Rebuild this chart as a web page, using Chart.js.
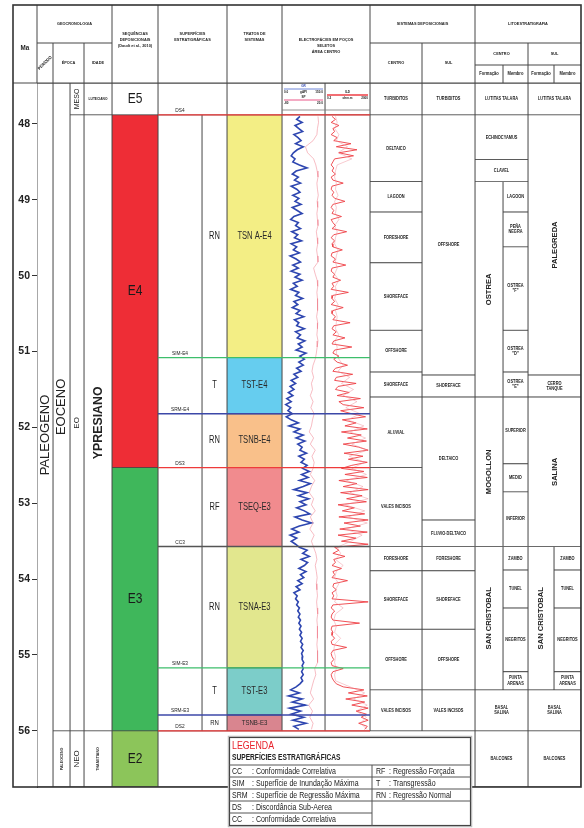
<!DOCTYPE html>
<html><head><meta charset="utf-8">
<script src="https://cdn.jsdelivr.net/npm/chart.js@4.4.1/dist/chart.umd.min.js"></script>
<style>html,body{margin:0;padding:0;background:#fff;}canvas{display:block;}</style>
</head><body>
<canvas id="c" width="584" height="828"></canvas>
<script>
// ================= DATA =================
const maTicks = [48, 49, 50, 51, 52, 53, 54, 55, 56];
const maRange = [47.46, 56.74];

const periodNames = ['PALEOGENO'];
const periodRanges = [[47.46, 56.74]];
const epochNames = ['EOCENO', 'PALEOCENO'];
const epochRanges = [[47.46, 56.0], [56.0, 56.74]];
const subEpochNames = ['MESO', 'EO', 'NEO'];
const subEpochRanges = [[47.46, 47.88], [47.88, 56.0], [56.0, 56.74]];
const stageNames = ['LUTECIANO', 'YPRESIANO', 'THANETIANO'];
const stageRanges = [[47.46, 47.88], [47.88, 56.0], [56.0, 56.74]];

const sequenceNames = ['E5', 'E4', 'E3', 'E2'];
const sequenceRanges = [[47.46, 47.88], [47.88, 52.53], [52.53, 56.0], [56.0, 56.74]];

const surfaceNames = ['DS4', 'SIM-E4', 'SRM-E4', 'DS3', 'CC3', 'SIM-E3', 'SRM-E3', 'DS2'];
const surfaceKinds = ['DS', 'SIM', 'SRM', 'DS', 'CC', 'SIM', 'SRM', 'DS'];
const surfaceAges = [47.88, 51.08, 51.82, 52.53, 53.57, 55.17, 55.79, 56.0];

const tractNames = ['TSN A-E4', 'TST-E4', 'TSNB-E4', 'TSEQ-E3', 'TSNA-E3', 'TST-E3', 'TSNB-E3'];
const tractTypes = ['RN', 'T', 'RN', 'RF', 'RN', 'T', 'RN'];
const tractRanges = [[47.88, 51.08], [51.08, 51.82], [51.82, 52.53], [52.53, 53.57], [53.57, 55.17], [55.17, 55.79], [55.79, 56.0]];

const depCentroNames = ['TURBIDITOS', 'DELTAICO', 'LAGOON', 'FORESHORE', 'SHOREFACE', 'OFFSHORE', 'SHOREFACE', 'ALUVIAL', 'VALES INCISOS', 'FORESHORE', 'SHOREFACE', 'OFFSHORE', 'VALES INCISOS'];
const depCentroRanges = [[47.46, 47.88], [47.88, 48.76], [48.76, 49.16], [49.16, 49.83], [49.83, 50.72], [50.72, 51.27], [51.27, 51.60], [51.60, 52.53], [52.53, 53.57], [53.57, 53.89], [53.89, 54.66], [54.66, 55.46], [55.46, 56.0]];
const depSulNames = ['TURBIDITOS', 'OFFSHORE', 'SHOREFACE', 'DELTAICO', 'FLUVIO-DELTAICO', 'FORESHORE', 'SHOREFACE', 'OFFSHORE', 'VALES INCISOS'];
const depSulRanges = [[47.46, 47.88], [47.88, 51.31], [51.31, 51.60], [51.60, 53.22], [53.22, 53.57], [53.57, 53.89], [53.89, 54.66], [54.66, 55.46], [55.46, 56.0]];

const litCentroNames = ['LUTITAS TALARA', 'ECHINOCYAMUS', 'CLAVEL', 'BASAL\nSALINA', 'BALCONES'];
const litCentroRanges = [[47.46, 47.88], [47.88, 48.47], [48.47, 48.76], [55.46, 56.0], [56.0, 56.74]];
const litCentroFmNames = ['OSTREA', 'MOGOLLON', 'SAN CRISTOBAL'];
const litCentroFmRanges = [[48.76, 51.60], [51.60, 53.57], [53.57, 55.46]];
const litCentroMbNames = ['LAGOON', 'PEÑA\nNEGRA', 'OSTREA\n"F"', 'OSTREA\n"D"', 'OSTREA\n"E"', 'SUPERIOR', 'MEDIO', 'INFERIOR', 'ZAMBO', 'TUNEL', 'NEGRITOS', 'PUNTA\nARENAS'];
const litCentroMbRanges = [[48.76, 49.16], [49.16, 49.62], [49.62, 50.72], [50.72, 51.27], [51.27, 51.60], [51.60, 52.48], [52.48, 52.85], [52.85, 53.57], [53.57, 53.88], [53.88, 54.38], [54.38, 55.22], [55.22, 55.46]];

const litSulNames = ['LUTITAS TALARA', 'PALEGREDA', 'CERRO\nTANQUE', 'SALINA', 'BASAL\nSALINA', 'BALCONES'];
const litSulRanges = [[47.46, 47.88], [47.88, 51.31], [51.31, 51.60], [51.60, 53.57], [55.46, 56.0], [56.0, 56.74]];
const litSulFmNames = ['SAN CRISTOBAL'];
const litSulFmRanges = [[53.57, 55.46]];
const litSulMbNames = ['ZAMBO', 'TUNEL', 'NEGRITOS', 'PUNTA\nARENAS'];
const litSulMbRanges = [[53.57, 53.88], [53.88, 54.38], [54.38, 55.22], [55.22, 55.46]];

// well logs: fine-sampled depth (Ma) for GR and resistivity, coarse depth for SP / deep res
const logDepth = [47.90, 47.94, 47.98, 48.02, 48.06, 48.10, 48.14, 48.18, 48.22, 48.26,
  48.30, 48.34, 48.38, 48.42, 48.46, 48.50, 48.54, 48.58, 48.62, 48.66,
  48.70, 48.74, 48.78, 48.82, 48.86, 48.90, 48.94, 48.98, 49.02, 49.06,
  49.10, 49.14, 49.18, 49.22, 49.26, 49.30, 49.34, 49.38, 49.42, 49.46,
  49.50, 49.54, 49.58, 49.62, 49.66, 49.70, 49.74, 49.78, 49.82, 49.86,
  49.90, 49.94, 49.98, 50.02, 50.06, 50.10, 50.14, 50.18, 50.22, 50.26,
  50.30, 50.34, 50.38, 50.42, 50.46, 50.50, 50.54, 50.58, 50.62, 50.66,
  50.70, 50.74, 50.78, 50.82, 50.86, 50.90, 50.94, 50.98, 51.02, 51.06,
  51.10, 51.14, 51.18, 51.22, 51.26, 51.30, 51.34, 51.38, 51.42, 51.46,
  51.50, 51.54, 51.58, 51.62, 51.66, 51.70, 51.74, 51.78, 51.82, 51.86,
  51.90, 51.94, 51.98, 52.02, 52.06, 52.10, 52.14, 52.18, 52.22, 52.26,
  52.30, 52.34, 52.38, 52.42, 52.46, 52.50, 52.54, 52.58, 52.62, 52.66,
  52.70, 52.74, 52.78, 52.82, 52.86, 52.90, 52.94, 52.98, 53.02, 53.06,
  53.10, 53.14, 53.18, 53.22, 53.26, 53.30, 53.34, 53.38, 53.42, 53.46,
  53.50, 53.54, 53.58, 53.62, 53.66, 53.70, 53.74, 53.78, 53.82, 53.86,
  53.90, 53.94, 53.98, 54.02, 54.06, 54.10, 54.14, 54.18, 54.22, 54.26,
  54.30, 54.34, 54.38, 54.42, 54.46, 54.50, 54.54, 54.58, 54.62, 54.66,
  54.70, 54.74, 54.78, 54.82, 54.86, 54.90, 54.94, 54.98, 55.02, 55.06,
  55.10, 55.14, 55.18, 55.22, 55.26, 55.30, 55.34, 55.38, 55.42, 55.46,
  55.50, 55.54, 55.58, 55.62, 55.66, 55.70, 55.74, 55.78, 55.82, 55.86,
  55.90, 55.94, 55.98];
const logGR = [62, 50, 70, 44, 58, 72, 40, 55, 66, 46,
  74, 52, 38, 30, 44, 36, 60, 88, 48, 34,
  56, 42, 64, 30, 50, 62, 36, 58, 44, 66,
  34, 52, 70, 40, 28, 56, 46, 64, 32, 54,
  42, 68, 30, 50, 38, 60, 26, 48, 64, 36,
  56, 30, 62, 44, 70, 38, 52, 28, 58, 46,
  72, 40, 54, 34, 62, 48, 76, 42, 58, 50,
  78, 46, 64, 52, 80, 56, 70, 48, 84, 62,
  78, 58, 74, 50, 66, 40, 54, 30, 46, 26,
  40, 20, 36, 14, 30, 10, 28, 18, 34, 12,
  30, 56, 22, 62, 40, 74, 48, 80, 54, 70,
  62, 86, 58, 78, 66, 88,
  72, 96, 68, 92, 60, 100, 74, 40, 88, 56,
  94, 62, 84, 50, 78, 98, 44, 70, 104, 60,
  32, 58, 26, 50, 30, 46,
  60, 88, 72, 96, 66, 90, 78, 58, 84, 64,
  76, 54, 70, 48, 62, 40, 52,
  46, 56, 50, 60, 54, 62, 56, 64, 58, 66,
  60, 68, 62, 70, 64, 72, 66, 74, 68, 72,
  70, 76, 70, 74, 68, 74, 66, 72, 62,
  48, 28, 60, 20, 70, 34, 82, 24, 64, 30,
  76, 36, 84, 40, 58];
const logRes = [14, 22, 12, 30, 16, 20, 12, 26, 18, 58,
  24, 72, 30, 64, 20, 16, 12, 18, 14, 22,
  12, 16, 40, 14, 12, 18, 14, 20, 44, 16,
  12, 18, 14, 36, 12, 16, 22, 14, 48, 18,
  12, 20, 14, 16, 38, 14, 12, 22, 16, 46,
  14, 12, 20, 16, 34, 14, 18, 12, 52, 16,
  14, 20, 12, 40, 16, 14, 22, 16, 56, 18,
  14, 24, 16, 44, 18, 14, 60, 20, 16, 30,
  18, 26, 50, 22, 16, 62, 24, 20, 70, 28,
  22, 54, 26, 80, 30, 40, 88, 34, 60, 92,
  38, 70, 44, 96, 36, 82, 50, 94, 40, 76,
  98, 42, 86, 52, 96, 60,
  36, 88, 44, 96, 30, 72, 40, 98, 34, 84,
  48, 94, 28, 66, 38, 90, 30, 98, 42, 80,
  32, 96, 28, 70, 36, 98,
  20, 30, 16, 44, 18, 22, 14, 36, 16, 20,
  14, 50, 18, 16, 24, 14, 18,
  14, 98, 16, 12, 20, 14, 12, 16, 78, 14,
  12, 16, 14, 20, 12, 14, 48, 16, 12, 14,
  18, 12, 14, 40, 16, 12, 14, 18, 24,
  40, 88, 52, 96, 46, 90, 60, 98, 70, 94,
  82, 98, 76, 96, 90];
const spDepth = [47.90, 47.98, 48.06, 48.14, 48.22, 48.30, 48.38, 48.46, 48.54, 48.62,
  48.70, 48.78, 48.86, 48.94, 49.02, 49.10, 49.18, 49.26, 49.34, 49.42,
  49.50, 49.58, 49.66, 49.74, 49.82, 49.90, 49.98, 50.06, 50.14, 50.22,
  50.30, 50.38, 50.46, 50.54, 50.62, 50.70, 50.78, 50.86, 50.94, 51.02,
  51.10, 51.18, 51.26, 51.34, 51.42, 51.50, 51.58, 51.66, 51.74, 51.82,
  51.90, 51.98, 52.06, 52.14, 52.22, 52.30, 52.38, 52.46, 52.54, 52.62,
  52.70, 52.78, 52.86, 52.94, 53.02, 53.10, 53.18, 53.26, 53.34, 53.42,
  53.50, 53.58, 53.66, 53.74, 53.82, 53.90, 53.98, 54.06, 54.14, 54.22,
  54.30, 54.38, 54.46, 54.54, 54.62, 54.70, 54.78, 54.86, 54.94, 55.02,
  55.10, 55.18, 55.26, 55.34, 55.42, 55.50, 55.58, 55.66, 55.74, 55.82,
  55.90, 55.98];
const logSP = [128, 130, 126, 124, 110, 82, 90, 112, 120, 125,
  128, 124, 126, 129, 125, 127, 124, 126, 128, 122,
  125, 127, 123, 126, 128, 112, 118, 125, 127, 124,
  126, 128, 125, 123, 127, 126, 124, 128, 125, 122,
  118, 110, 106, 112, 104, 108, 100, 110, 102, 114,
  108, 104, 96, 112, 100, 118, 106, 114, 110, 100,
  116, 104, 96, 112, 104, 118, 100, 110, 98, 114,
  104, 112, 120, 124, 118, 122, 125, 122, 124, 126,
  123, 125, 127, 124, 126, 125, 127, 124, 126, 128,
  125, 116, 120, 112, 106, 100, 112, 94, 108, 98,
  110, 104];
const logResDeep = [22, 26, 20, 30, 24, 50, 28, 60, 26, 22,
  20, 24, 22, 28, 20, 24, 22, 30, 20, 26,
  22, 20, 28, 24, 22, 26, 20, 30, 22, 24,
  20, 28, 22, 26, 24, 22, 30, 20, 26, 24,
  30, 40, 28, 55, 36, 64, 40, 72, 46, 80,
  50, 88, 56, 92, 60, 96, 54, 90,
  60, 94, 48, 86, 56, 98, 44, 90, 52, 96, 46, 84, 58,
  26, 34, 22, 40, 24, 20, 30, 22, 26,
  20, 40, 22, 18, 24, 20, 34, 20, 18, 22, 20, 24, 20, 22,
  56, 90, 64, 96, 70, 94, 80, 96];

const legendSurfCodes = ['CC', 'SIM', 'SRM', 'DS', 'CC'];
const legendSurfTexts = ['Conformidade Correlativa', 'Superfície de Inundação Máxima', 'Superfície de Regressão Máxima', 'Discordância Sub-Aerea', 'Conformidade Correlativa'];
const legendTractCodes = ['RF', 'T', 'RN'];
const legendTractTexts = ['Regressão Forçada', 'Transgressão', 'Regressão Normal'];

// ================= LAYOUT / STYLE =================
const FONT = "'Liberation Sans', Arial, Helvetica, sans-serif";
const LINE = '#474747';
const COL = {
  ma: [13, 37], period: [37, 53], epochA: [53, 70], epochB: [70, 84], stage: [84, 112], seq: [112, 158],
  surfAll: [158, 227], surfL: [158, 202], surfR: [202, 227], tract: [227, 282],
  logL: [282, 325], logR: [325, 370], logAll: [282, 370], blank: [158, 475],
  depC: [370, 422], depS: [422, 475],
  litC: [475, 528], litCF: [475, 503], litCM: [503, 528],
  litS: [528, 581], litSF: [528, 554], litSM: [554, 581]
};
const sequenceColors = ['#ffffff', '#EE2D36', '#3FB75B', '#8CC55A'];
const tractColors = ['#F3EE85', '#66CDEF', '#F9C08A', '#F18B8E', '#E2E78E', '#7CCDC9', '#D9858F'];
const surfaceColors = { DS: '#EE3B3B', SIM: '#3DBE6B', SRM: '#3C48A8', CC: '#555555' };
const litSulVertical = [false, true, false, true, false, false];
const GR_SCALE = [0, 150], RES_SCALE = [0, 100];

function toTrack(v, scale, col) {
  return col[0] + 1 + (v - scale[0]) / (scale[1] - scale[0]) * (col[1] - col[0] - 2);
}

function cellSet(label, col, ranges, colors) {
  return {
    type: 'bar', label,
    data: ranges.map(r => ({ x: (col[0] + col[1]) / 2, y: [r[0], r[1]] })),
    backgroundColor: colors || '#ffffff',
    borderColor: LINE, borderWidth: 0.8, borderSkipped: false,
    barThickness: col[1] - col[0], stack: 'cells', order: 3
  };
}
function logSet(label, depth, values, scale, col, color, width) {
  return {
    type: 'line', label, indexAxis: 'y', order: 2,
    data: depth.map((d, i) => ({ x: toTrack(values[i], scale, col), y: d })),
    borderColor: color, borderWidth: width, pointRadius: 0, tension: 0
  };
}

const e5 = sequenceRanges[0];
const e2 = sequenceRanges[3];
const innerSpan = [surfaceAges[0], surfaceAges[surfaceAges.length - 1]];

const datasets = [
  cellSet('period', COL.period, periodRanges),
  cellSet('epochA', COL.epochA, epochRanges),
  cellSet('epochB', COL.epochB, subEpochRanges),
  cellSet('stage', COL.stage, stageRanges),
  cellSet('seq', COL.seq, sequenceRanges, sequenceColors),
  cellSet('surfTop', COL.surfAll, [e5]),
  cellSet('surfL', COL.surfL, [innerSpan]),
  cellSet('surfR', COL.surfR, [innerSpan]),
  cellSet('tractTop', COL.tract, [e5]),
  cellSet('tract', COL.tract, tractRanges, tractColors),
  cellSet('logL', COL.logL, [e5, innerSpan]),
  cellSet('logR', COL.logR, [e5, innerSpan]),
  cellSet('blank', COL.blank, [e2]),
  cellSet('depC', COL.depC, depCentroRanges),
  cellSet('depS', COL.depS, depSulRanges),
  cellSet('litC', COL.litC, litCentroRanges),
  cellSet('litCF', COL.litCF, litCentroFmRanges),
  cellSet('litCM', COL.litCM, litCentroMbRanges),
  cellSet('litS', COL.litS, litSulRanges),
  cellSet('litSF', COL.litSF, litSulFmRanges),
  cellSet('litSM', COL.litSM, litSulMbRanges),
  logSet('SP', spDepth, logSP, GR_SCALE, COL.logL, 'rgba(238,120,135,0.55)', 0.9),
  logSet('ILD deep', spDepth, logResDeep, RES_SCALE, COL.logR, 'rgba(240,140,150,0.5)', 0.9),
  logSet('GR', logDepth, logGR, GR_SCALE, COL.logL, '#2E46B0', 1.6),
  logSet('ILD', logDepth, logRes, RES_SCALE, COL.logR, '#EE3E44', 0.9)
].concat(surfaceAges.map((a, i) => ({
  type: 'line', label: surfaceNames[i], order: 1,
  data: [{ x: COL.surfL[0], y: a }, { x: COL.logR[1], y: a }],
  borderColor: surfaceColors[surfaceKinds[i]], borderWidth: 1.4, pointRadius: 0
})));

// ================= DRAW HELPERS =================
function txt(ctx, s, x, y, o) {
  ctx.save();
  ctx.translate(x, y);
  if (o.rot) ctx.rotate(o.rot);
  ctx.scale(o.cx || 1, 1);
  ctx.font = (o.w || 'normal') + ' ' + o.size + 'px ' + FONT;
  ctx.fillStyle = o.color || '#222';
  ctx.textAlign = o.align || 'center';
  ctx.textBaseline = o.base || 'middle';
  const lines = String(s).split('\n');
  const lh = o.lh || o.size * 1.15;
  lines.forEach((l, i) => ctx.fillText(l, 0, (i - (lines.length - 1) / 2) * lh));
  ctx.restore();
}
function line(ctx, x0, y0, x1, y1, w, c) {
  ctx.save(); ctx.beginPath(); ctx.moveTo(x0, y0); ctx.lineTo(x1, y1);
  ctx.lineWidth = w || 1; ctx.strokeStyle = c || LINE; ctx.stroke(); ctx.restore();
}

const tablePlugin = {
  id: 'table',
  beforeDraw(chart) {
    const ctx = chart.ctx;
    ctx.save(); ctx.fillStyle = '#fff'; ctx.fillRect(0, 0, chart.width, chart.height); ctx.restore();
  },
  afterDatasetsDraw(chart) {
    const ctx = chart.ctx, X = v => chart.scales.x.getPixelForValue(v), Y = v => chart.scales.y.getPixelForValue(v);
    const cx = col => (X(col[0]) + X(col[1])) / 2;
    const cy = r => (Y(r[0]) + Y(r[1])) / 2;
    const R = -Math.PI / 2;
    const cells = (names, ranges, col, o, vert) => names.forEach((n, i) => {
      const oo = Object.assign({}, o);
      if (vert && vert[i]) { oo.rot = R; oo.size = 8; oo.w = 'bold'; oo.cx = 0.95; }
      txt(ctx, n, cx(col), cy(ranges[i]), oo);
    });
    // geochronology
    txt(ctx, periodNames[0], cx(COL.period), cy(periodRanges[0]), { size: 13, rot: R, cx: 1.0 });
    txt(ctx, epochNames[0], cx(COL.epochA), cy(epochRanges[0]), { size: 13, rot: R });
    txt(ctx, epochNames[1], cx(COL.epochA), cy(epochRanges[1]), { size: 3.6, rot: R, w: 'bold' });
    txt(ctx, subEpochNames[0], cx(COL.epochB), cy(subEpochRanges[0]), { size: 7, rot: R });
    txt(ctx, subEpochNames[1], cx(COL.epochB), cy(subEpochRanges[1]), { size: 8, rot: R });
    txt(ctx, subEpochNames[2], cx(COL.epochB), cy(subEpochRanges[2]), { size: 8, rot: R });
    txt(ctx, stageNames[0], cx(COL.stage), cy(stageRanges[0]), { size: 3.8, w: 'bold', cx: 0.85 });
    txt(ctx, stageNames[1], cx(COL.stage), cy(stageRanges[1]), { size: 13, rot: R, w: 'bold', cx: 0.95 });
    txt(ctx, stageNames[2], cx(COL.stage), cy(stageRanges[2]), { size: 3.6, rot: R, w: 'bold' });
    // sequences
    sequenceNames.forEach((n, i) => txt(ctx, n, cx(COL.seq), cy(sequenceRanges[i]), { size: 15, cx: 0.8, color: '#1a1a1a' }));
    // surfaces
    surfaceNames.forEach((n, i) => txt(ctx, n, cx(COL.surfL), Y(surfaceAges[i]) - 1.5, { size: 6, cx: 0.8, base: 'bottom' }));
    // tracts
    tractNames.forEach((n, i) => {
      const small = (Y(tractRanges[i][1]) - Y(tractRanges[i][0])) < 25;
      txt(ctx, tractTypes[i], cx(COL.surfR), cy(tractRanges[i]), { size: small ? 8 : 10, cx: 0.75 });
      txt(ctx, n, cx(COL.tract), cy(tractRanges[i]), { size: small ? 8 : 10, cx: 0.76, color: '#2a2a2a' });
    });
    // depositional systems
    const small = { size: 4.6, w: 'bold', cx: 0.85 };
    cells(depCentroNames, depCentroRanges, COL.depC, small);
    cells(depSulNames, depSulRanges, COL.depS, small);
    // lithostratigraphy
    cells(litCentroNames, litCentroRanges, COL.litC, small);
    cells(litCentroFmNames, litCentroFmRanges, COL.litCF, small, litCentroFmNames.map(() => true));
    cells(litCentroMbNames, litCentroMbRanges, COL.litCM, small);
    cells(litSulNames, litSulRanges, COL.litS, small, litSulVertical);
    cells(litSulFmNames, litSulFmRanges, COL.litSF, small, [true]);
    cells(litSulMbNames, litSulMbRanges, COL.litSM, small);
    // log header (E5 row)
    const l0 = X(COL.logL[0]) + 2, l1 = X(COL.logL[1]) - 2, r0 = X(COL.logR[0]) + 2, r1 = X(COL.logR[1]) - 2;
    const t = Y(e5[0]);
    const tiny = { size: 3.4, w: 'bold', cx: 0.9 };
    txt(ctx, 'GR', (l0 + l1) / 2, t + 3, Object.assign({ color: '#2E46B0' }, tiny));
    line(ctx, l0, t + 6, l1, t + 6, 1, '#6F86D8');
    txt(ctx, '0.0', l0, t + 9, Object.assign({ align: 'left' }, tiny));
    txt(ctx, 'gAPI', (l0 + l1) / 2, t + 9, tiny);
    txt(ctx, '150.0', l1, t + 9, Object.assign({ align: 'right' }, tiny));
    txt(ctx, 'SP', (l0 + l1) / 2, t + 14, tiny);
    line(ctx, l0, t + 17, l1, t + 17, 1.4, '#F08FB0');
    txt(ctx, '-80', l0, t + 20, Object.assign({ align: 'left' }, tiny));
    txt(ctx, '20.0', l1, t + 20, Object.assign({ align: 'right' }, tiny));
    txt(ctx, 'ILD', (r0 + r1) / 2, t + 9, tiny);
    line(ctx, r0, t + 12, r1, t + 12, 1.3, '#EE3E44');
    txt(ctx, '0.2', r0, t + 15, Object.assign({ align: 'left' }, tiny));
    txt(ctx, 'ohm.m', (r0 + r1) / 2, t + 15, tiny);
    txt(ctx, '2000', r1, t + 15, Object.assign({ align: 'right' }, tiny));
    line(ctx, X(COL.logAll[0]), t + 27, X(COL.logAll[1]), t + 27, 0.8, '#777');
  },
  afterDraw(chart) {
    const ctx = chart.ctx, X = v => chart.scales.x.getPixelForValue(v);
    const top = 5, mid = 43, sub = 65, bot = chart.chartArea.top, end = chart.chartArea.bottom;
    const L = X(COL.ma[0]), Rr = X(COL.litS[1]);
    // header lines
    line(ctx, L, bot, Rr, bot, 1, LINE);
    line(ctx, X(COL.period[0]), mid, X(COL.stage[1]), mid, 1, LINE);
    line(ctx, X(COL.depC[0]), mid, Rr, mid, 1, LINE);
    line(ctx, X(COL.litC[0]), sub, Rr, sub, 1, LINE);
    [COL.period[0], COL.seq[0], COL.surfAll[0], COL.tract[0], COL.logAll[0], COL.depC[0], COL.litC[0]].forEach(v => line(ctx, X(v), top, X(v), bot, 1, LINE));
    [COL.epochA[0], COL.stage[0], COL.depS[0], COL.litS[0]].forEach(v => line(ctx, X(v), mid, X(v), bot, 1, LINE));
    [COL.litCM[0], COL.litSM[0]].forEach(v => line(ctx, X(v), sub, X(v), bot, 1, LINE));
    // outer border
    ctx.save(); ctx.lineWidth = 1.6; ctx.strokeStyle = '#333';
    ctx.strokeRect(L, top, Rr - L, end - top); ctx.restore();
    // header texts
    const hb = { size: 4.4, w: 'bold', cx: 0.88 };
    const mx = col => (X(col[0]) + X(col[1])) / 2;
    txt(ctx, 'Ma', mx(COL.ma), 48, { size: 7, w: 'bold', cx: 0.9 });
    txt(ctx, 'GEOCRONOLOGIA', mx([COL.period[0], COL.stage[1]]), 24, hb);
    txt(ctx, 'PERÍODO', mx(COL.period), 63, Object.assign({ rot: -Math.PI / 4 }, hb));
    txt(ctx, 'ÉPOCA', mx([COL.epochA[0], COL.epochB[1]]), 63, hb);
    txt(ctx, 'IDADE', mx(COL.stage), 63, hb);
    txt(ctx, 'SEQUÊNCIAS\nDEPOSICIONAIS\n(Daudt et al., 2010)', mx(COL.seq), 40, Object.assign({ lh: 6 }, hb));
    txt(ctx, 'SUPERFÍCIES\nESTRATIGRÁFICAS', mx(COL.surfAll), 37, Object.assign({ lh: 6 }, hb));
    txt(ctx, 'TRATOS DE\nSISTEMAS', mx(COL.tract), 37, Object.assign({ lh: 6 }, hb));
    txt(ctx, 'ELECTROFÁCIES EM POÇOS\nSELETOS\nÁREA CENTRO', mx(COL.logAll), 46, Object.assign({ lh: 6 }, hb));
    txt(ctx, 'SISTEMAS DEPOSICIONAIS', mx([COL.depC[0], COL.depS[1]]), 24, hb);
    txt(ctx, 'CENTRO', mx(COL.depC), 63, hb);
    txt(ctx, 'SUL', mx(COL.depS), 63, hb);
    txt(ctx, 'LITOESTRATIGRAFIA', mx([COL.litC[0], COL.litS[1]]), 24, hb);
    txt(ctx, 'CENTRO', mx(COL.litC), 54, hb);
    txt(ctx, 'SUL', mx(COL.litS), 54, hb);
    const hf = { size: 4.8, w: 'bold', cx: 0.85 };
    txt(ctx, 'Formação', mx(COL.litCF), 74, hf);
    txt(ctx, 'Membro', mx(COL.litCM), 74, hf);
    txt(ctx, 'Formação', mx(COL.litSF), 74, hf);
    txt(ctx, 'Membro', mx(COL.litSM), 74, hf);
    // legend box
    const bx0 = 229, bx1 = 471, by0 = 737, by1 = 826, split = 372;
    ctx.save();
    ctx.fillStyle = '#fff'; ctx.fillRect(bx0, by0, bx1 - bx0, by1 - by0);
    ctx.strokeStyle = '#bbb'; ctx.lineWidth = 2.5; ctx.strokeRect(bx0, by0, bx1 - bx0, by1 - by0);
    ctx.strokeStyle = '#444'; ctx.lineWidth = 1; ctx.strokeRect(bx0 + 0.5, by0 + 0.5, bx1 - bx0 - 1, by1 - by0 - 1);
    ctx.restore();
    txt(ctx, 'LEGENDA', bx0 + 3, by0 + 9, { size: 11, cx: 0.8, color: '#E8202A', align: 'left' });
    txt(ctx, 'SUPERFÍCIES ESTRATIGRÁFICAS', bx0 + 3, by0 + 21, { size: 8.5, w: 'bold', cx: 0.78, align: 'left' });
    const rowTop = 765, rh = 12;
    line(ctx, bx0, rowTop, bx1, rowTop, 1, '#555');
    line(ctx, split, rowTop, split, by1, 1, '#555');
    legendSurfCodes.forEach((c, i) => {
      const y = rowTop + i * rh;
      if (i > 0) line(ctx, bx0, y, split, y, 1, '#555');
      txt(ctx, c, bx0 + 3, y + 6.5, { size: 9, cx: 0.78, align: 'left' });
      txt(ctx, ': ' + legendSurfTexts[i], bx0 + 23, y + 6.5, { size: 9, cx: 0.78, align: 'left' });
    });
    legendTractCodes.forEach((c, i) => {
      const y = rowTop + i * rh;
      line(ctx, split, y + rh, bx1, y + rh, 1, '#555');
      txt(ctx, c, split + 4, y + 6.5, { size: 9, cx: 0.78, align: 'left' });
      txt(ctx, ': ' + legendTractTexts[i], split + 17, y + 6.5, { size: 9, cx: 0.78, align: 'left' });
    });
  }
};

new Chart(document.getElementById('c'), {
  type: 'bar',
  data: { datasets },
  plugins: [tablePlugin],
  options: {
    responsive: false, animation: false, devicePixelRatio: 1,
    layout: { padding: { left: 13, top: 83, right: 3, bottom: 41 } },
    plugins: { legend: { display: false }, tooltip: { enabled: false } },
    scales: {
      x: { type: 'linear', min: COL.period[0], max: COL.litS[1], offset: false, display: false },
      y: {
        type: 'linear', min: maRange[0], max: maRange[1], reverse: true, stacked: false, beginAtZero: false,
        afterFit(s) { s.width = 24; },
        afterBuildTicks(s) { s.ticks = maTicks.map(v => ({ value: v })); },
        ticks: { padding: 2, color: '#222', font: { family: FONT, size: 10.5, weight: 'bold' }, callback: v => String(v) },
        grid: { display: true, drawOnChartArea: false, drawTicks: true, tickLength: 5, color: '#333', lineWidth: 1 },
        border: { display: true, color: LINE, width: 1 }
      }
    }
  }
});
</script>
</body></html>
